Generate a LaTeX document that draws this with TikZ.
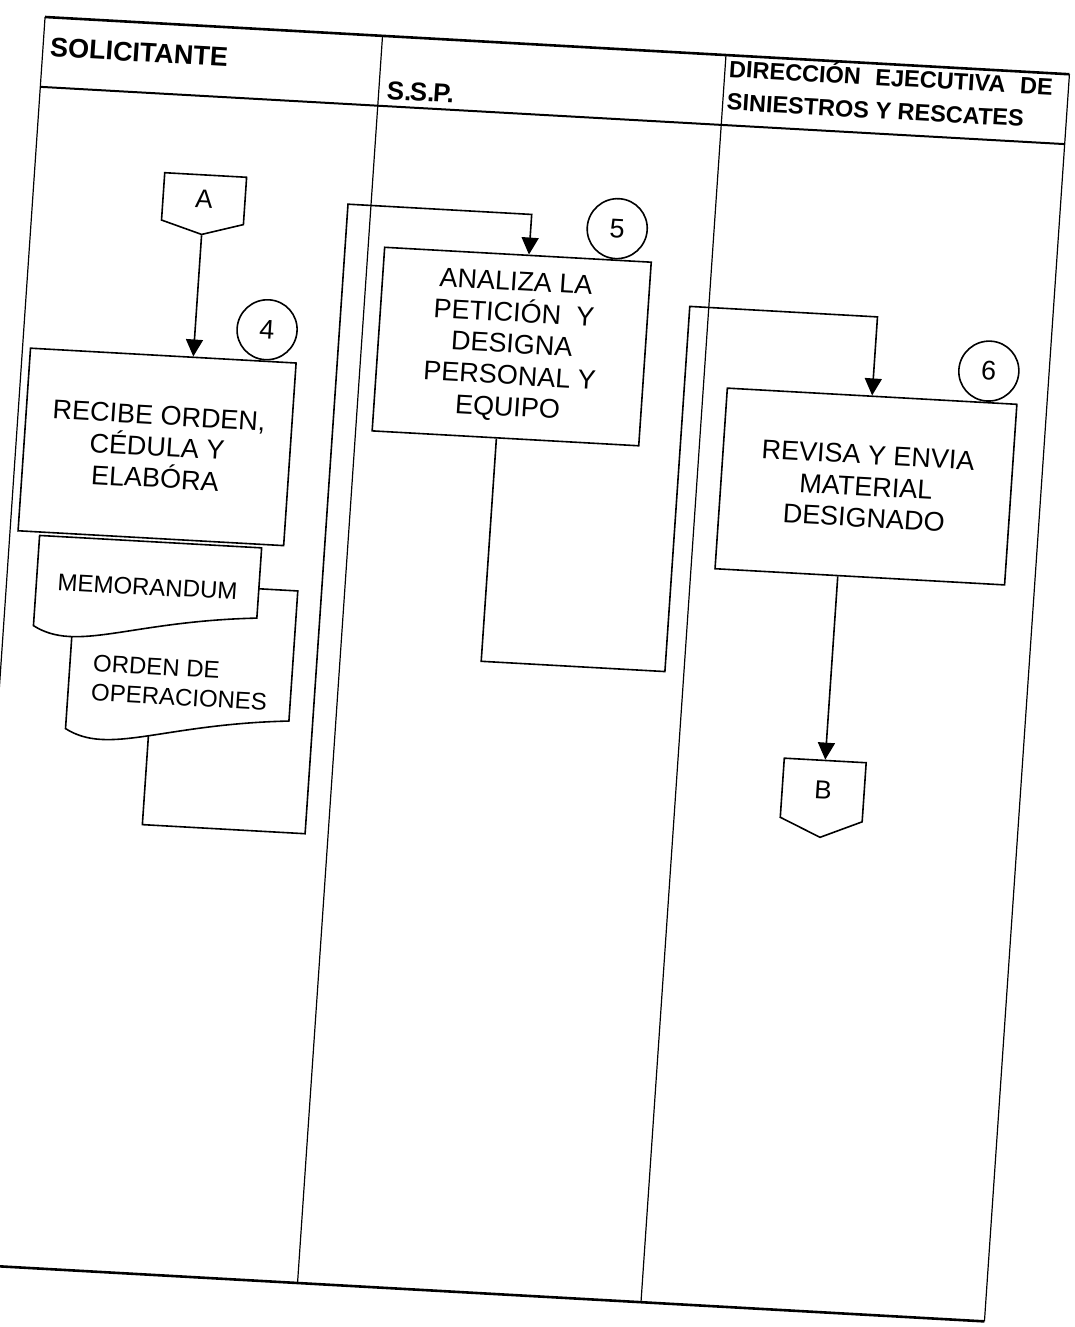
\documentclass[tikz,border=0pt]{standalone}
\usepackage{fontspec}
\setmainfont{Liberation Sans}
\usetikzlibrary{arrows.meta, positioning, calc, shapes.symbols}
\pgfdeclarelayer{bg}
\pgfdeclarelayer{docs}
\pgfsetlayers{bg,docs,main}

\begin{document}
\begin{tikzpicture}[
    x=1pt, y=-1pt,
    >={Triangle[length=17pt, width=17pt]},
    edge/.style={line width=1.2pt},
    rule/.style={line width=2.6pt},
    hdr/.style={anchor=west, inner sep=0pt, font=\fontsize{27}{30}\selectfont\bfseries},
    act/.style={draw, line width=1.6pt, fill=white, align=center, inner sep=0pt, font=\fontsize{27}{31.5}\selectfont},
    num/.style={draw, circle, line width=1.6pt, fill=white, minimum size=60pt, inner sep=0pt, anchor=south, font=\fontsize{27}{27}\selectfont},
    docu/.style={minimum width=222pt, minimum height=90pt, inner sep=0pt, anchor=north, font=\fontsize{24}{29}\selectfont},
    docline/.style={draw, line width=1.6pt, fill=white},
    offpage/.style={draw, signal, signal to=south, line width=1.6pt, fill=white, minimum width=82pt, inner sep=0pt, anchor=north, font=\fontsize{26}{26}\selectfont},
    flow/.style={->, line width=1.6pt}
]
\useasboundingbox (0,0) rectangle (1075,1327);

\begin{scope}[cm={0.9984,-0.0558,0.068,0.9977,(1.3pt,2.47pt)}, transform shape]

% Lanes and header
\draw[rule] (45,17) -- (1071,17);
\draw[rule] (45,1267) -- (1071,1267);
\draw[line width=2pt] (45,87) -- (1071,87);
\draw[edge] (45,17) -- (45,1267);
\draw[edge] (383,17) -- (383,1267);
\draw[edge] (727,17) -- (727,1267);
\draw[edge] (1071,17) -- (1071,1267);

\node[hdr] (solic) at (52,47) {SOLICITANTE};
\node[hdr, font=\fontsize{26}{28}\selectfont\bfseries] (ssp) at (391,71) {S.\kern-1.5pt S.\kern-1.5pt P.};
\node[hdr, align=left, font=\fontsize{23.5}{33}\selectfont\bfseries] (dir) at (731,45)
    {\makebox[324pt][s]{DIRECCIÓN\hfill EJECUTIVA\hfill DE}\\SINIESTROS Y RESCATES};

% Solicitante lane
\node[offpage, minimum height=50pt, signal pointer angle=147] (A) at (216,165) {A};
\node[act, minimum width=266pt, minimum height=183pt] (recibe) at (186,440) {RECIBE ORDEN,\\CÉDULA Y\\ELABÓRA};
\node[num] (n4) at ([xshift=-32pt]recibe.north east) {4};
\node[docu, minimum height=150pt, align=left, text height=92pt] (orden) at (225,576) {ORDEN DE\\OPERACIONES};
\node[docu] (memo) at (186,535) {MEMORANDUM};

% document outlines, wavy bottom
\begin{pgfonlayer}{docs}
\draw[docline] (orden.north west) -- (orden.north east) -- ($(orden.south east)+(0,-20)$)
    .. controls ($(orden.south east)+(-127,-10)$) and ($(orden.south west)+(45,25)$) .. (orden.south west) -- cycle;
\draw[docline] (memo.north west) -- (memo.north east) -- ($(memo.south east)+(0,-20)$)
    .. controls ($(memo.south east)+(-127,-10)$) and ($(memo.south west)+(45,25)$) .. (memo.south west) -- cycle;
\end{pgfonlayer}

% S.S.P. lane
\node[act, minimum width=267pt, minimum height=184pt] (analiza) at (533,320) {ANALIZA LA\\PETICIÓN\ \ Y\\DESIGNA\\PERSONAL Y\\EQUIPO};
\node[num] (n5) at ([xshift=-37pt]analiza.north east) {5};

% Direccion lane
\node[act, minimum width=290pt, minimum height=181pt] (revisa) at (896,440) {REVISA Y ENVIA\\MATERIAL\\DESIGNADO};
\node[num] (n6) at ([xshift=-31pt]revisa.north east) {6};
\node[offpage, minimum height=63pt, signal pointer angle=133] (B) at (874,715) {B};

% Connectors
\coordinate (ret0) at (360,818);
\coordinate (ret1) at (360,187);
\coordinate (ret2) at (708,636);
\coordinate (ret3) at (708,270);

\begin{pgfonlayer}{bg}
\draw[flow] (A.south) -- (A.south |- recibe.north);
\draw[flow] ($(orden.south)+(-28,0)$) |- (ret0) -- (ret1) -| ([xshift=11pt]analiza.north);
\draw[flow] ([xshift=-9pt]analiza.south) |- (ret2) -- (ret3) -| (revisa.north);
\draw[flow] (B.north |- revisa.south) -- (B.north);
\end{pgfonlayer}

\end{scope}
\end{tikzpicture}
\end{document}
